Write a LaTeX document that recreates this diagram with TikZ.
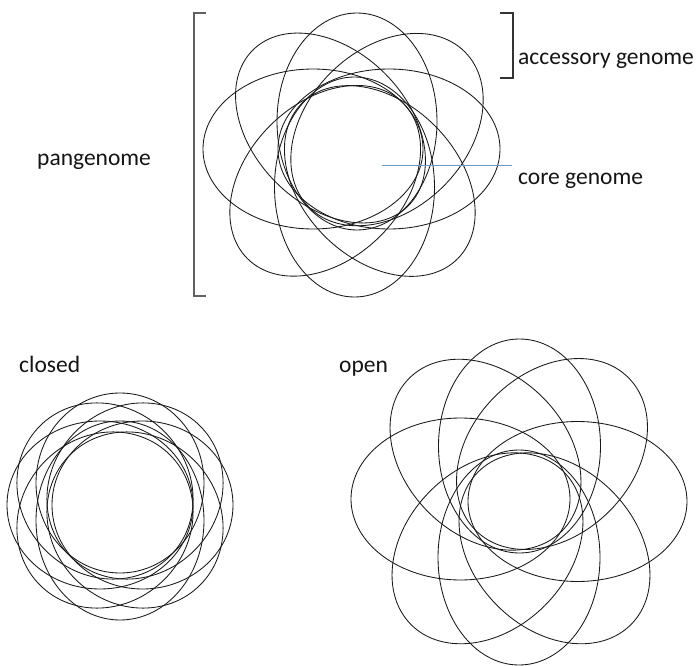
\documentclass[tikz,border=0pt]{standalone}
\usepackage{fontspec}
\setmainfont{Carlito}
\definecolor{pointerblue}{RGB}{112,152,208}
\begin{document}
\begin{tikzpicture}[x=1pt,y=-1pt,
  petal/.style={draw=black!90, line width=0.85pt},
  lbl/.style={inner sep=0pt, anchor=base west, text=black!92,
              font=\fontsize{23.5}{28}\selectfont},
  leftbracket/.style={draw=black!62, line width=1.4pt},
  rightbracket/.style={draw=black!80, line width=1.1pt},
  pointer/.style={draw=pointerblue, line width=1.4pt}]
\useasboundingbox (0,0) rectangle (699,666);

% pangenome flower: centre x / centre y / axis angle / semi-major / semi-minor
\foreach \cx/\cy/\r/\a/\b in {
    313/149/0/110/80, 389/149/0/111/80,
    357/121.5/90/108.5/80, 354.5/187/90/110/80,
    330.5/128/135/110/77, 387/129.6/45/110/80,
    325.2/180.8/45/110/78, 379.8/181/135/110/78}
  \draw[petal, shift={(\cx,\cy)}, rotate=\r]
    (0,0) ellipse [x radius=\a pt, y radius=\b pt];

% closed pangenome: nearly round petals packed tightly
\foreach \cx/\cy/\r/\a/\b in {
    100/505/0/93/84, 142.5/505/0/90.5/84,
    120/483/90/90/84, 120/520.5/90/99.5/84,
    105/491/135/92/84, 135/491/45/92/84,
    105/520/45/92/84, 135/520/135/92/84}
  \draw[petal, shift={(\cx,\cy)}, rotate=\r]
    (0,0) ellipse [x radius=\a pt, y radius=\b pt];

% open pangenome: petals pushed far out, small core
\foreach \cx/\cy/\r/\a/\b in {
    460.5/499/0/109.5/81, 577.5/501.5/0/109.5/80,
    519.5/446/90/107/81, 519/557.5/90/107.5/81,
    485.5/454.7/135/108/81, 552/454/45/108/81,
    487.5/548.3/45/108/81, 554.5/548.3/135/108/81}
  \draw[petal, shift={(\cx,\cy)}, rotate=\r]
    (0,0) ellipse [x radius=\a pt, y radius=\b pt];

% brackets
\draw[leftbracket] (206,13) -- (194,13) -- (194,296) -- (206,296);
\draw[rightbracket] (500,13) -- (513,13) -- (513,78) -- (500,78);

% labels
\node[lbl] (pan) at (37,165) {pangenome};
\node[lbl] (acc) at (518,65) {accessory genome};
\node[lbl] (core) at (518,184.5) {core genome};
\node[lbl] (closed) at (19,372) {closed};
\node[lbl] (open) at (339,372) {open};

% pointer into the core
\coordinate (coreIn) at (382,165.5);
\coordinate (coreOut) at (512,165.5);
\draw[pointer] (coreIn) -- (coreOut);
\end{tikzpicture}
\end{document}
